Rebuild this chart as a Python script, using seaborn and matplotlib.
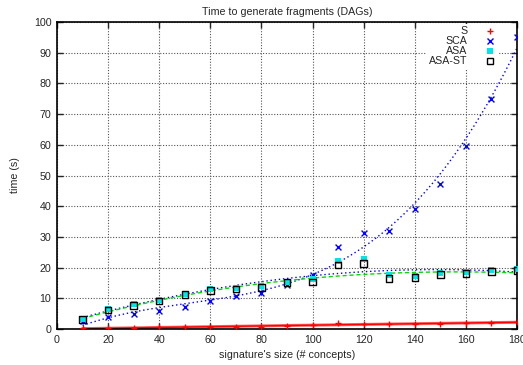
import numpy as np
import pandas as pd
import matplotlib
matplotlib.use("Agg")
import matplotlib.pyplot as plt
import seaborn as sns
from matplotlib.lines import Line2D

sizes = [10, 20, 30, 40, 50, 60, 70, 80, 90, 100, 110, 120, 130, 140, 150, 160, 170, 180]
s_vals = [0.2, 0.3, 0.4, 0.5, 0.6, 0.7, 0.8, 0.7, 1.0, 1.2, 2.1, 1.7, 1.6, 1.6, 1.7, 1.9, 2.1, 2.2]
sca_vals = [2.5, 3.8, 4.9, 6.0, 7.1, 9.0, 10.6, 11.7, 14.3, 17.6, 26.8, 31.4, 31.8, 39.0, 47.2, 59.5, 74.9, 95.0]
asa_vals = [3.4, 6.5, 8.1, 9.6, 11.5, 12.9, 13.4, 14.0, 15.4, 16.3, 22.2, 22.7, 17.6, 17.2, 18.1, 18.5, 19.1, 19.6]
asast_vals = [3.1, 6.2, 7.7, 9.2, 11.2, 12.5, 13.1, 13.5, 15.1, 15.3, 20.8, 21.4, 16.4, 16.7, 17.8, 18.1, 18.7, 19.0]
series_names = ["S", "SCA", "ASA", "ASA-ST"]

sns.set_theme(style="ticks")
plt.rcParams["font.family"] = ["Liberation Sans", "DejaVu Sans"]

fig = plt.figure(figsize=(5.23, 3.65), dpi=100)
ax = fig.add_axes([0.109, 0.0986, 0.8795, 0.8411])

x = np.array(sizes, dtype=float)
xs = np.linspace(10, 180, 300)

def fit(vals, deg):
    c = np.polyfit(x, np.array(vals, dtype=float), deg)
    return np.polyval(c, xs)

fits = pd.DataFrame({
    "x": np.tile(xs, 4),
    "y": np.concatenate([fit(s_vals, 2), fit(sca_vals, 3), fit(asa_vals, 3), fit(asast_vals, 3)]),
    "fit": np.repeat(["fS", "fSCA", "fASA", "fASAST"], len(xs)),
})
sns.lineplot(data=fits[fits.fit == "fS"], x="x", y="y", ax=ax, color="#ff6666", lw=2.2, legend=False)
sns.lineplot(data=fits[fits.fit == "fS"], x="x", y="y", ax=ax, color="#ff0000", lw=1.0, legend=False)
sns.lineplot(data=fits[fits.fit == "fSCA"], x="x", y="y", ax=ax, color="#0000ff", lw=1.0, ls=(0, (1, 2)), legend=False)
sns.lineplot(data=fits[fits.fit == "fASA"], x="x", y="y", ax=ax, color="#0000ff", lw=1.0, ls=(0, (1, 2)), legend=False)
sns.lineplot(data=fits[fits.fit == "fASAST"], x="x", y="y", ax=ax, color="#00dd00", lw=1.0, ls=(0, (3, 2)), legend=False)

sns.scatterplot(x=sizes, y=s_vals, ax=ax, marker="+", color="#ff0000", s=20, linewidth=1.0, zorder=5)
sns.scatterplot(x=sizes, y=sca_vals, ax=ax, marker="x", color="#0000ff", s=18, linewidth=1.0, zorder=5)
sns.scatterplot(x=sizes, y=asa_vals, ax=ax, marker="s", color="#00e5e5", s=18, linewidth=0, zorder=5)
sns.scatterplot(x=sizes, y=asast_vals, ax=ax, marker="s", facecolor="none", edgecolor="black", s=22, linewidth=1.0, zorder=6)

ax.set_xlim(0, 180)
ax.set_ylim(0, 100)
ax.set_xticks(range(0, 181, 20))
ax.set_yticks(range(0, 101, 10))
ax.tick_params(direction="in", length=4, width=1, labelsize=7.7, top=True, right=True, pad=4)
ax.grid(True, color="#555555", ls=(0, (1, 1.5)), lw=0.8)
for sp in ax.spines.values():
    sp.set_linewidth(1.2)
    sp.set_color("black")
ax.set_xlabel("signature's size (# concepts)", fontsize=7.7, labelpad=4)
ax.set_ylabel("time (s)", fontsize=7.7, labelpad=10)
ax.set_title("Time to generate fragments (DAGs)", fontsize=7.7, pad=5)

handles = [
    Line2D([], [], ls="none", marker="+", color="#ff0000", markersize=4.5),
    Line2D([], [], ls="none", marker="x", color="#0000ff", markersize=4),
    Line2D([], [], ls="none", marker="s", color="#00e5e5", markersize=4, markeredgewidth=0),
    Line2D([], [], ls="none", marker="s", markerfacecolor="none", markeredgecolor="black", markersize=4.5),
]
leg = ax.legend(handles, series_names, loc="upper right", bbox_to_anchor=(0.97, 1.012), frameon=True,
                fontsize=7.7, markerfirst=False, handlelength=1.0, handletextpad=1.6,
                labelspacing=0.0, borderpad=0.25, framealpha=1)
leg.get_frame().set_edgecolor("white")
leg.get_frame().set_linewidth(0)
for t in leg.get_texts():
    t.set_ha("right")
leg._legend_box.align = "right"

fig.savefig("out.png", dpi=100)
